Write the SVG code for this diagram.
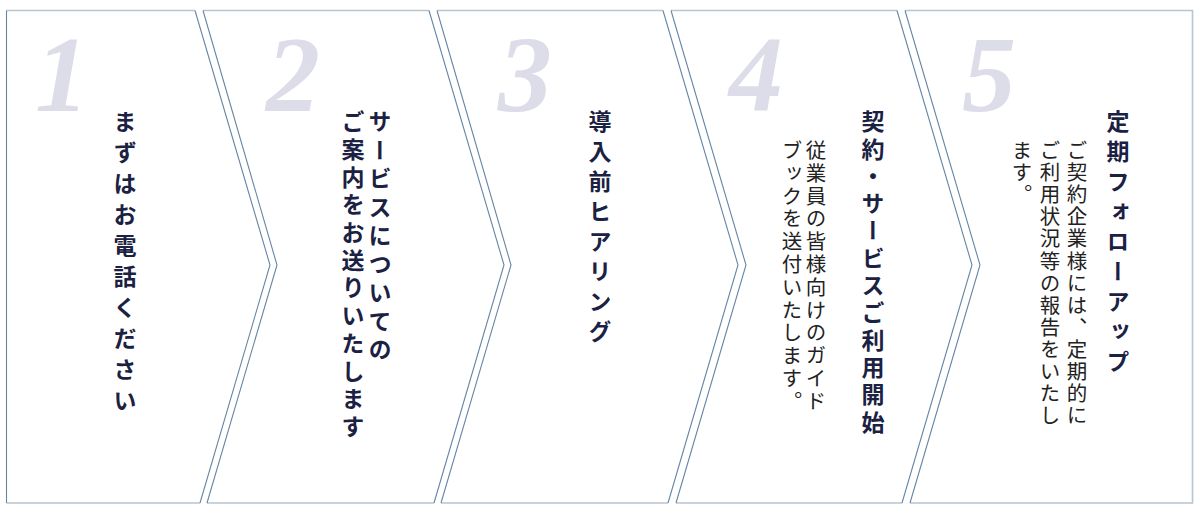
<svg xmlns="http://www.w3.org/2000/svg" width="1201" height="515" viewBox="0 0 1201 515">
<style>
.panel{fill:#ffffff;stroke:none}
.edge{fill:none;stroke:#b7c5d2;stroke-width:1.6}
.div{fill:none;stroke:#6686a4;stroke-width:1.1}
.num{font-family:"Liberation Serif",serif;font-style:italic;font-weight:bold;font-size:108px;fill:#dcdde8}
.ttl{font-family:"Noto Sans CJK JP",sans-serif;font-weight:bold;font-size:23px;fill:#1b2142;writing-mode:vertical-rl;letter-spacing:7px}
.body{font-family:"Noto Sans CJK JP",sans-serif;font-size:20.5px;fill:#222222;writing-mode:vertical-rl;letter-spacing:2px}
</style>
<rect width="1201" height="515" fill="#ffffff"/>
<g id="step1">
<path class="panel" d="M6.5,10.5 H195 L270,265 L200,503 H6.5 Z"/>
<path class="edge" d="M6.5,10.5 H195 M6.5,503 H200"/>
<path class="div" d="M6.5,10.5 V503"/>
<text class="num" x="35" y="111">1</text>
<text class="ttl" x="125" y="110" style="letter-spacing:8px">まずはお電話ください</text>
</g>
<g id="step2">
<path class="panel" d="M203,10.5 H429 L504,265 L434,503 H207 L277,265 Z"/>
<path class="edge" d="M203,10.5 H429 M207,503 H434"/>
<text class="num" x="266" y="111">2</text>
<text class="ttl" x="380" y="110" style="letter-spacing:5.5px">サービスについての</text>
<text class="ttl" x="353" y="110" style="letter-spacing:4.7px">ご案内をお送りいたします</text>
</g>
<g id="step3">
<path class="panel" d="M437,10.5 H663 L738,265 L668,503 H441 L511,265 Z"/>
<path class="edge" d="M437,10.5 H663 M441,503 H668"/>
<text class="num" x="498" y="111">3</text>
<text class="ttl" x="600" y="110">導入前ヒアリング</text>
</g>
<g id="step4">
<path class="panel" d="M671,10.5 H897 L972,265 L902,503 H676 L746,265 Z"/>
<path class="edge" d="M671,10.5 H897 M676,503 H902"/>
<text class="num" x="729" y="111">4</text>
<text class="ttl" x="873" y="110" style="letter-spacing:4.3px">契約・サービスご利用開始</text>
<text class="body" x="816" y="140" style="letter-spacing:2.3px">従業員の皆様向けのガイド</text>
<text class="body" x="792" y="140" style="letter-spacing:2.3px">ブックを送付いたします。</text>
</g>
<g id="step5">
<path class="panel" d="M905,10.5 H1192.5 V503 H910 L980,265 Z"/>
<path class="edge" d="M905,10.5 H1192.5 V503 H910"/>
<text class="num" x="962" y="111">5</text>
<text class="ttl" x="1118" y="110">定期フォローアップ</text>
<text class="body" x="1077" y="140" style="letter-spacing:1.6px">ご契約企業様には、定期的に</text>
<text class="body" x="1050" y="140" style="letter-spacing:1.6px">ご利用状況等の報告をいたし</text>
<text class="body" x="1022" y="140" style="letter-spacing:1.6px">ます。</text>
</g>
<g id="connectors">
<path class="div" d="M195,10.5 L270,265 L200,503 M203,10.5 L277,265 L207,503"/>
<path class="div" d="M429,10.5 L504,265 L434,503 M437,10.5 L511,265 L441,503"/>
<path class="div" d="M663,10.5 L738,265 L668,503 M671,10.5 L746,265 L676,503"/>
<path class="div" d="M897,10.5 L972,265 L902,503 M905,10.5 L980,265 L910,503"/>
</g>
</svg>
